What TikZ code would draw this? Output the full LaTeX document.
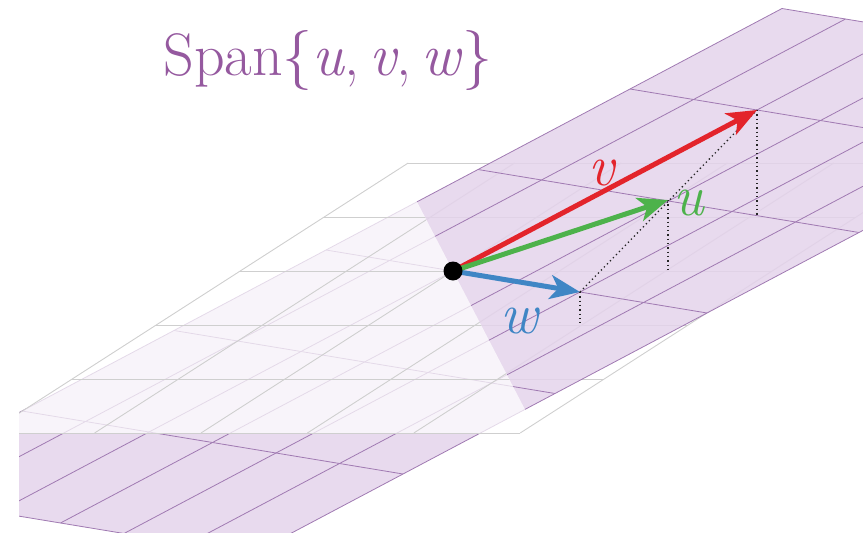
\documentclass[tikz,border=0pt]{standalone}
\usetikzlibrary{arrows.meta}
\definecolor{SpanFill}{HTML}{E4D3EB}
\definecolor{SpanLine}{HTML}{A07AB2}
\definecolor{SpanText}{HTML}{95599F}
\definecolor{GridGrey}{HTML}{CFCFCF}
\definecolor{VecRed}{HTML}{E3242B}
\definecolor{VecGreen}{HTML}{4DB24B}
\definecolor{VecBlue}{HTML}{3F86C5}

\begin{document}
\begin{tikzpicture}[x=1pt,y=-1pt,
  spanplane/.style={shift={(O)},x={(304pt,161pt)},y={(127pt,-21pt)}},
  xyplane/.style={shift={(O)},x={(106.4pt,0pt)},y={(84pt,54pt)}},
  vec/.style={line width=5pt,-{Stealth[length=30pt,width=24pt,inset=8pt]}},
  drop/.style={line width=1.3pt,dash pattern=on 1.3pt off 3pt,black!85},
  veclabel/.style={anchor=base,font=\fontsize{58}{58}\selectfont\itshape}]
  \useasboundingbox (0,0) rectangle (863,533);
  \coordinate (O) at (453,271);
  \coordinate (V) at (757,110);
  \coordinate (U) at (668,200);
  \coordinate (W) at (580,292);
  \coordinate (Vfoot) at (757,215);
  \coordinate (Ufoot) at (668,270);
  \coordinate (Wfoot) at (580,323);

  \begin{scope}
    \clip (19,0) rectangle (863,533);
    % xy-plane under the span
    \begin{scope}
      \clip (295.5,-32) -- (610.5,574) -- (900,574) -- (900,-32) -- cycle;
      \begin{scope}[xyplane]
        \foreach \i in {-2,...,3} \draw[GridGrey,line width=0.9pt] (\i,-3) -- (\i,2);
        \foreach \j in {-3,...,2} \draw[GridGrey,line width=0.9pt] (-2,\j) -- (3,\j);
      \end{scope}
    \end{scope}
    % the span plane
    \begin{scope}[spanplane]
      \fill[SpanFill,fill opacity=0.85] (-1.5,-1) -- (1.5,-1) -- (1.5,2) -- (-1.5,2) -- cycle;
      \foreach \a in {-1.5,-1,...,1.5} \draw[SpanLine,line width=0.8pt] (\a,-1) -- (\a,2);
      \foreach \b in {-1,-0.5,...,2} \draw[SpanLine,line width=0.8pt] (-1.5,\b) -- (1.5,\b);
    \end{scope}
    % xy-plane over the span
    \begin{scope}
      \clip (295.5,-32) -- (610.5,574) -- (-50,574) -- (-50,-32) -- cycle;
      \begin{scope}[xyplane]
        \fill[white,fill opacity=0.72] (-2,-3) -- (3,-3) -- (3,2) -- (-2,2) -- cycle;
        \foreach \i in {-2,...,3} \draw[GridGrey,line width=0.9pt] (\i,-3) -- (\i,2);
        \foreach \j in {-3,...,2} \draw[GridGrey,line width=0.9pt] (-2,\j) -- (3,\j);
      \end{scope}
    \end{scope}
  \end{scope}

  \draw[drop] (W) -- (V);
  \draw[drop] (V) -- (Vfoot);
  \draw[drop] (U) -- (Ufoot);
  \draw[drop] (W) -- (Wfoot);

  \draw[vec,VecBlue] (O) -- (W);
  \draw[vec,VecRed] (O) -- (V);
  \draw[vec,VecGreen] (O) -- (U);
  \fill (O) circle (9.5);

  \node[veclabel,text=VecRed] (vlabel) at (602,185) {v};
  \node[veclabel,text=VecGreen] (ulabel) at (689,215) {u};
  \node[veclabel,text=VecBlue] (wlabel) at (519,333) {w};
  \node[anchor=base,text=SpanText,font=\fontsize{60}{60}\selectfont] (title) at (328,75) {Span\{\textit{u},\,\textit{v},\,\textit{w}\}};
\end{tikzpicture}
\end{document}
